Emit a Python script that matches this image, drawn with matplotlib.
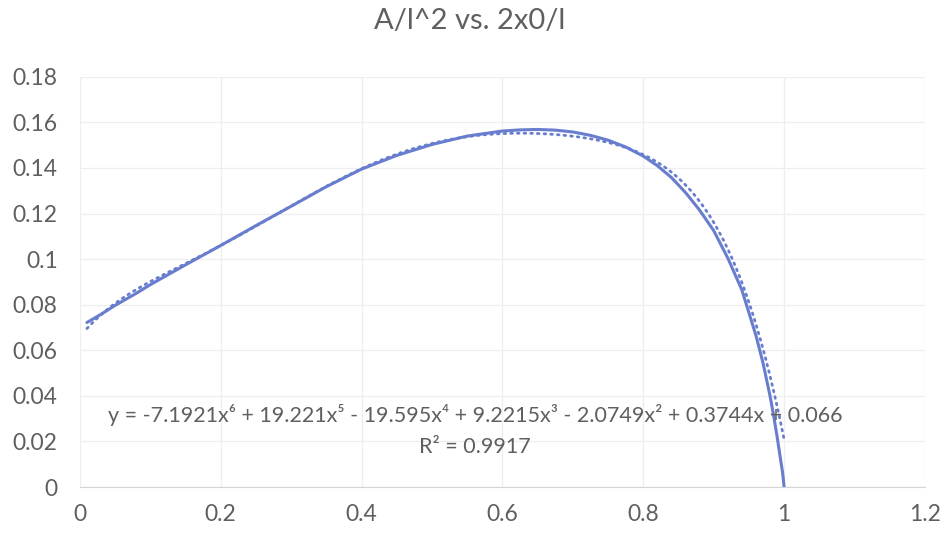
import numpy as np
import matplotlib
matplotlib.use("Agg")
import matplotlib.pyplot as plt
from matplotlib.ticker import FuncFormatter, MultipleLocator

plt.rcParams["font.family"] = ["Lato", "DejaVu Sans"]

# measured curve: A/l^2 against 2x0/l
ratio = [0.01, 0.03, 0.05, 0.08, 0.10, 0.15, 0.20, 0.25, 0.30, 0.35, 0.40,
         0.45, 0.50, 0.55, 0.60, 0.625, 0.65, 0.675, 0.70, 0.725, 0.75,
         0.775, 0.80, 0.82, 0.84, 0.86, 0.88, 0.90, 0.92, 0.94, 0.95, 0.96,
         0.97, 0.98, 0.985, 0.99, 0.995, 0.998, 1.00]
area = [0.0722, 0.0758, 0.0797, 0.0850, 0.0888, 0.0975, 0.1060, 0.1147,
        0.1232, 0.1318, 0.1395, 0.1455, 0.1503, 0.1540, 0.1562, 0.1567,
        0.1569, 0.1566, 0.1558, 0.1543, 0.1522, 0.1492, 0.1452, 0.1410,
        0.1358, 0.1292, 0.1215, 0.1125, 0.1005, 0.0865, 0.0765, 0.0665,
        0.0545, 0.0400, 0.0315, 0.0222, 0.0120, 0.0060, 0.0]

# 6th order polynomial trendline coefficients (highest power first)
poly = [-7.1921, 19.221, -19.595, 9.2215, -2.0749, 0.3744, 0.066]
r2 = 0.9917

BLUE = "#687DCE"
GREY = "#5F5F5F"

fig = plt.figure(figsize=(9.4, 5.37), dpi=100)
ax = fig.add_axes([0.085, 0.093, 0.899, 0.764])

xs = np.linspace(ratio[0], ratio[-1], 300)
ax.plot(xs, np.polyval(poly, xs), color=BLUE, lw=2.0, ls=(0, (0.6, 1.8)),
        dash_capstyle="round", zorder=2)
ax.plot(ratio, area, color=BLUE, lw=2.2, zorder=3, solid_capstyle="round",
        solid_joinstyle="round")

ax.set_xlim(0, 1.2)
ax.set_ylim(0, 0.18)
ax.xaxis.set_major_locator(MultipleLocator(0.2))
ax.yaxis.set_major_locator(MultipleLocator(0.02))
fmt = FuncFormatter(lambda v, p: f"{round(v, 2):g}")
ax.xaxis.set_major_formatter(fmt)
ax.yaxis.set_major_formatter(fmt)
ax.tick_params(length=0, labelsize=16.5, labelcolor=GREY)
ax.tick_params(axis="x", pad=12)
ax.tick_params(axis="y", pad=16)

ax.grid(color="#EEEEEE", lw=0.9)
ax.set_axisbelow(True)
for sp in ["top", "right", "left"]:
    ax.spines[sp].set_visible(False)
ax.spines["bottom"].set_color("#D4D4D4")

terms = []
for i, c in enumerate(poly):
    p = len(poly) - 1 - i
    sup = {6: "x⁶", 5: "x⁵", 4: "x⁴", 3: "x³", 2: "x²", 1: "x", 0: ""}[p]
    terms.append((c, f"{abs(c):g}{sup}"))
eq = "y = " + ("-" if terms[0][0] < 0 else "") + terms[0][1]
for c, t in terms[1:]:
    eq += (" - " if c < 0 else " + ") + t
ax.text(0.561, 0.0318, eq, ha="center", va="center", fontsize=15.5, color=GREY)
ax.text(0.561, 0.0177, f"R² = {r2}", ha="center", va="center", fontsize=15.5,
        color=GREY)

fig.suptitle("A/l^2 vs. 2x0/l", y=0.985, fontsize=21, color=GREY)

fig.savefig("out.png", dpi=100)
